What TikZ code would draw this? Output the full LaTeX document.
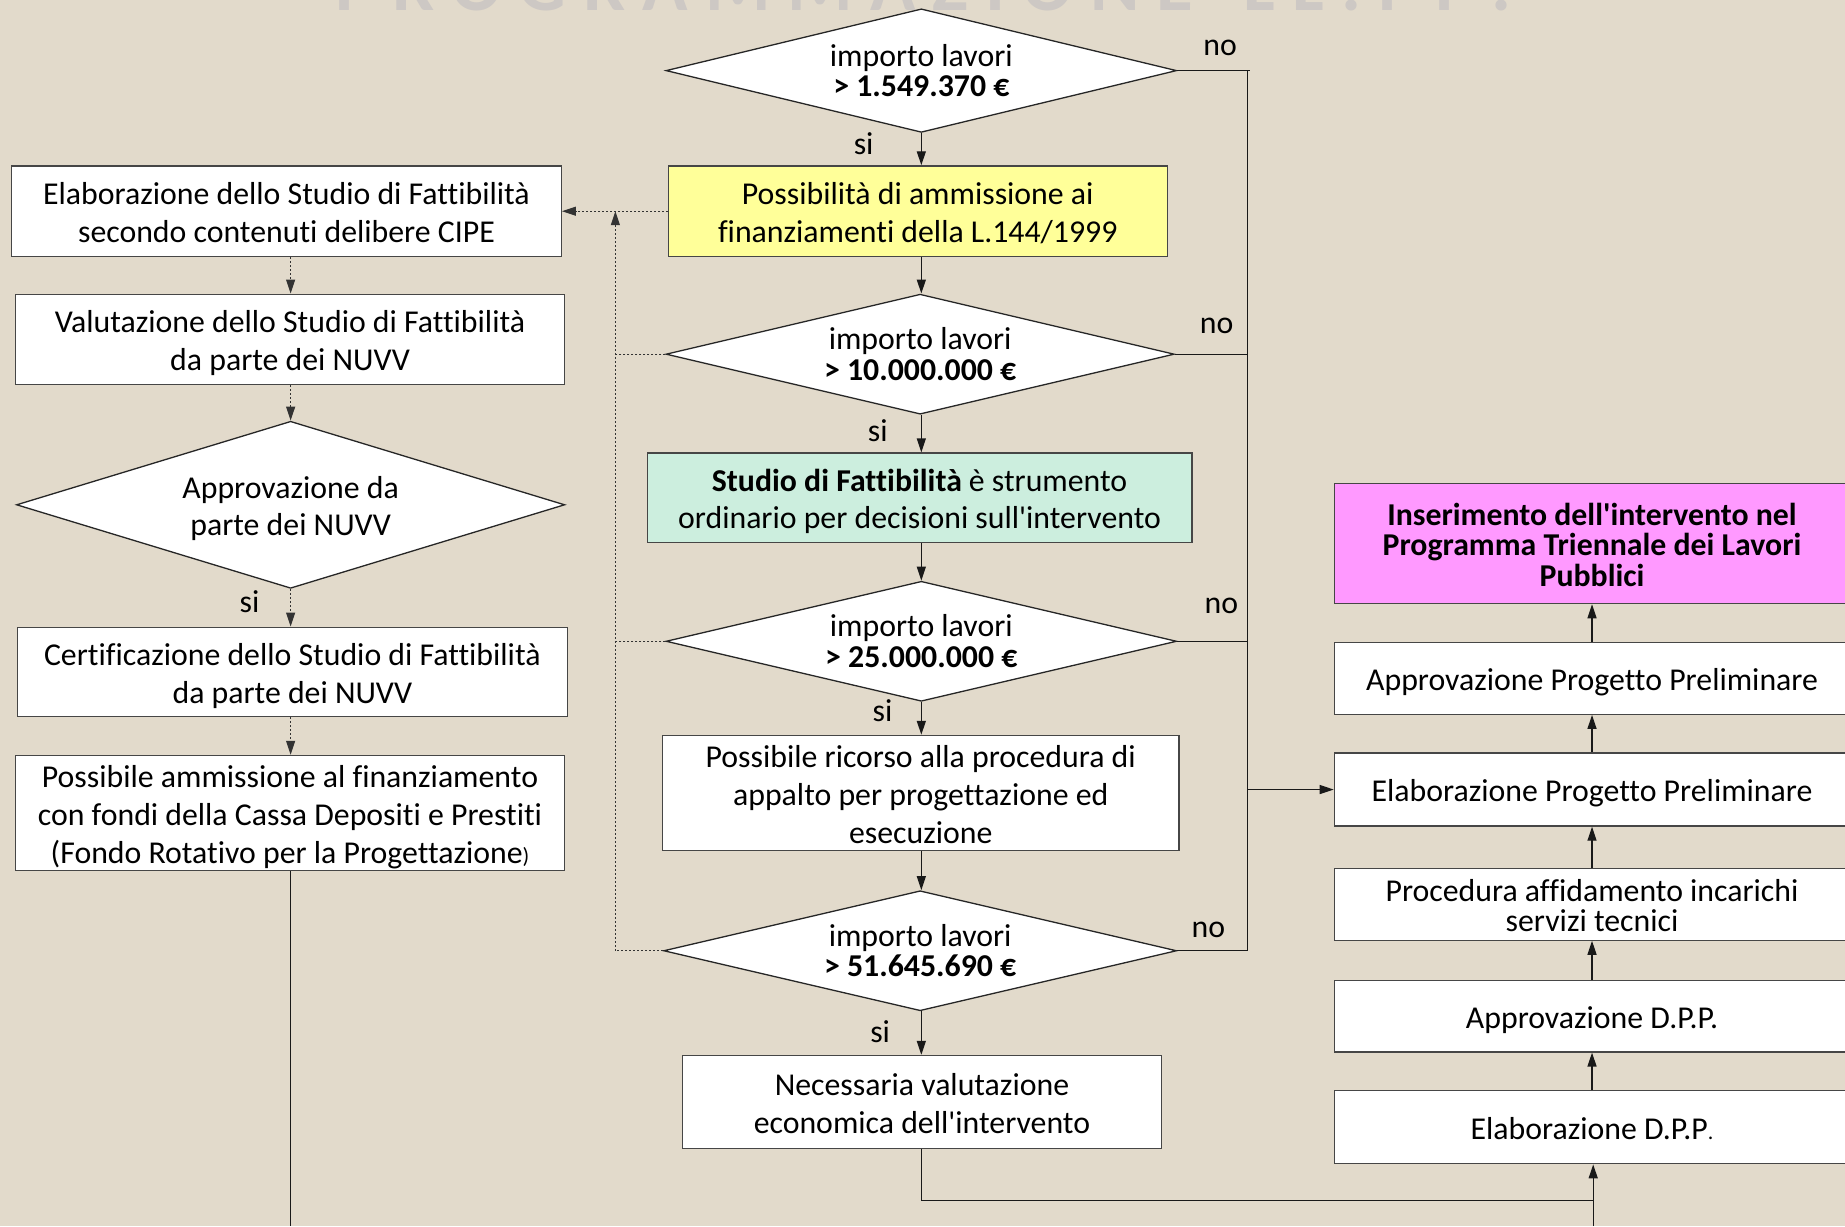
\documentclass[tikz,border=0pt]{standalone}
\usepackage{fontspec}
\setmainfont{Carlito}[Ligatures={CommonOff,TeXOff}]
\usetikzlibrary{shapes.geometric,arrows.meta}

\definecolor{paper}{RGB}{226,218,203}
\definecolor{boxline}{RGB}{70,70,70}
\definecolor{yellowfill}{RGB}{255,255,153}
\definecolor{mintfill}{RGB}{204,238,222}
\definecolor{pinkfill}{RGB}{255,153,255}
\definecolor{titlegray}{RGB}{205,200,196}

\newcommand\pxu{1.1767pt}

\tikzset{
  txt/.style={font=\fontsize{31.8}{37.7}\selectfont},
  tighttxt/.style={font=\fontsize{31.8}{29.6}\selectfont},
  % fixed text box height/depth so that lines sit the same way in every box
  oneline/.style={text height=29.42pt, text depth=4.71pt},
  twolines/.style={text height=67.07pt, text depth=4.71pt},
  threelines/.style={text height=104.73pt, text depth=4.71pt},
  box/.style={draw=boxline, line width=1.3pt, fill=white, rectangle,
    align=center, inner sep=0pt, txt},
  rbox/.style={box, tighttxt, minimum width=438*\pxu},
  decision/.style={draw=black!85, line width=1.3pt, fill=white, diamond,
    aspect=4, align=center, inner sep=0pt,
    font=\fontsize{31.8}{30.6}\selectfont},
  lbl/.style={txt, inner sep=0pt},
  link/.style={line width=1.3pt, draw=black!90},
  arr/.style={link, -{Triangle[length=14pt,width=9pt]}},
  dotlink/.style={line width=1.2pt, draw=black!80, dash pattern=on 2pt off 2pt},
  dotarr/.style={dotlink, -{Triangle[length=14pt,width=9pt]}},
}

\begin{document}
\lineskiplimit=-60pt\relax
\begin{tikzpicture}[x=1.1767pt, y=-1.1767pt]
  \useasboundingbox (0,0) rectangle (1568,1042);
  \clip (0,0) rectangle (1568,1042);
  \fill[paper] (0,0) rectangle (1568,1042);

  % heading, mostly above the page edge
  \node[anchor=base, text=titlegray, inner sep=0pt,
        font=\bfseries\fontsize{75}{75}\selectfont] (title) at (785,9)
        {P R O G R A M M A Z I O N E \ \ L L . P P .};

  % central decision column
  \node[decision, minimum width=434*\pxu, minimum height=105*\pxu] (d1) at (783,60)
    {importo lavori\\\textbf{> 1.549.370 €}};
  \node[box, twolines, fill=yellowfill, minimum width=424*\pxu, minimum height=77*\pxu] (y1) at (780,179.5)
    {Possibilità di ammissione ai\\finanziamenti della L.144/1999};
  \node[decision, minimum width=432*\pxu, minimum height=102*\pxu] (d2) at (782,301)
    {importo lavori\\\textbf{> 10.000.000 €}};
  \node[box, twolines, fill=mintfill, minimum width=463*\pxu, minimum height=76*\pxu] (g1) at (781.5,423)
    {\textbf{Studio di Fattibilità} è strumento\\ordinario per decisioni sull'intervento};
  \node[decision, minimum width=434*\pxu, minimum height=102*\pxu] (d3) at (783,545)
    {importo lavori\\\textbf{> 25.000.000 €}};
  \node[box, threelines, minimum width=439*\pxu, minimum height=98*\pxu] (b4) at (782.5,674)
    {Possibile ricorso alla procedura di\\appalto per progettazione ed\\esecuzione};
  \node[decision, minimum width=436*\pxu, minimum height=102*\pxu] (d4) at (782,808)
    {importo lavori\\\textbf{> 51.645.690 €}};
  \node[box, twolines, minimum width=407*\pxu, minimum height=79*\pxu] (b5) at (783.5,936.5)
    {Necessaria valutazione\\economica dell'intervento};

  % left column
  \node[box, twolines, minimum width=467*\pxu, minimum height=77*\pxu] (l1) at (243.5,179.5)
    {Elaborazione dello Studio di Fattibilità\\secondo contenuti delibere CIPE};
  \node[box, twolines, minimum width=467*\pxu, minimum height=77*\pxu] (l2) at (246.5,288.5)
    {Valutazione dello Studio di Fattibilità\\da parte dei NUVV};
  \node[decision, aspect=3.3, txt, twolines, minimum width=466*\pxu, minimum height=142*\pxu] (d5) at (247,429)
    {Approvazione da\\parte dei NUVV};
  \node[box, twolines, minimum width=467*\pxu, minimum height=76*\pxu] (l3) at (248.5,571)
    {Certificazione dello Studio di Fattibilità\\da parte dei NUVV};
  \node[box, threelines, minimum width=467*\pxu, minimum height=98*\pxu] (l4) at (246.5,691)
    {Possibile ammissione al finanziamento\\con fondi della Cassa Depositi e Prestiti\\(Fondo Rotativo per la Progettazione{\fontsize{22}{22}\selectfont )}};

  % right column
  \node[rbox, fill=pinkfill, font=\bfseries\fontsize{31.8}{30.6}\selectfont,
        text height=90.61pt, text depth=4.71pt,
        minimum height=102*\pxu] (r1) at (1353,462)
    {Inserimento dell'intervento nel\\Programma Triennale dei Lavori\\Pubblici};
  \node[rbox, oneline, minimum height=61*\pxu] (r2) at (1353,576.5) {Approvazione Progetto Preliminare};
  \node[rbox, oneline, minimum height=62*\pxu] (r3) at (1353,671) {Elaborazione Progetto Preliminare};
  \node[rbox, text height=59.07pt, text depth=4.71pt, minimum height=61*\pxu] (r4) at (1353,768.5)
    {Procedura affidamento incarichi\\servizi tecnici};
  \node[rbox, oneline, minimum height=61*\pxu] (r5) at (1353,863.5) {Approvazione D.P.P.};
  \node[rbox, oneline, minimum height=62*\pxu] (r6) at (1353,958) {Elaborazione D.P.P{\fontsize{22}{22}\selectfont .}};

  % branch labels
  \node[lbl] (si1) at (734,122) {si};
  \node[lbl] (si2) at (746,366) {si};
  \node[lbl] (si3) at (750,604) {si};
  \node[lbl] (si4) at (748,877) {si};
  \node[lbl] (si5) at (212,511) {si};
  \node[lbl] (no1) at (1037,41) {no};
  \node[lbl] (no2) at (1034,277) {no};
  \node[lbl] (no3) at (1038,515) {no};
  \node[lbl] (no4) at (1027,790) {no};

  % collector lines
  \coordinate (nobus) at (1060,0);
  \coordinate (dotbus) at (523,0);
  \coordinate (leftend) at (247,1042);
  \coordinate (rightend) at (1354,1042);
  \coordinate (join) at (1354,1020);

  % central flow
  \draw[arr] (d1.south) -- (d1.south |- y1.north);
  \draw[arr] (y1.south -| d1.south) -- (d1.south |- d2.north);
  \draw[arr] (d1.south |- d2.south) -- (d1.south |- g1.north);
  \draw[arr] (d1.south |- g1.south) -- (d1.south |- d3.north);
  \draw[arr] (d1.south |- d3.south) -- (d1.south |- b4.north);
  \draw[arr] (d1.south |- b4.south) -- (d1.south |- d4.north);
  \draw[arr] (d1.south |- d4.south) -- (d1.south |- b5.north);
  \draw[link] (d1.south |- b5.south) -- (d1.south |- join) -- (join);
  \draw[arr] (rightend) -- (rightend |- r6.south);

  % "no" branches to the right
  \draw[link] (d1.east) -- ([xshift=2*\pxu]d1.east -| nobus);
  \draw[link] (d1.east -| nobus) -- (d4.east -| nobus) -- (d4.east);
  \draw[link] (d2.east) -- (d2.east -| nobus);
  \draw[link] (d3.east) -- (d3.east -| nobus);
  \draw[arr] (r3.west -| nobus) -- (r3.west);

  % right column upwards
  \draw[arr] (r6.north) -- (r5.south);
  \draw[arr] (r5.north) -- (r4.south);
  \draw[arr] (r4.north) -- (r3.south);
  \draw[arr] (r3.north) -- (r2.south);
  \draw[arr] (r2.north) -- (r1.south);

  % dotted returns to the feasibility study
  \draw[dotarr] (y1.west) -- (l1.east);
  \draw[dotlink] (d2.west) -- (d2.west -| dotbus);
  \draw[dotlink] (d3.west) -- (d3.west -| dotbus);
  \draw[dotlink] (d4.west) -- (d4.west -| dotbus);
  \draw[dotarr] (d4.west -| dotbus) -- (y1.west -| dotbus);

  % left column
  \draw[dotarr] (l1.south -| d5.north) -- (d5.north |- l2.north);
  \draw[dotarr] (l2.south -| d5.north) -- (d5.north);
  \draw[dotarr] (d5.south) -- (d5.south |- l3.north);
  \draw[dotarr] (l3.south -| d5.north) -- (d5.north |- l4.north);
  \draw[link] (l4.south -| leftend) -- (leftend);
\end{tikzpicture}
\end{document}
